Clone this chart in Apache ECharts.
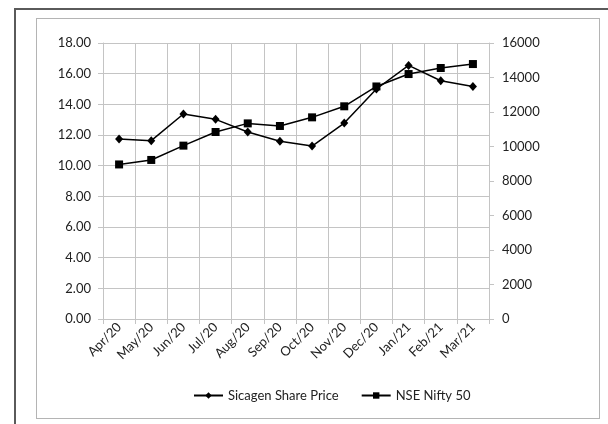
<!DOCTYPE html>
<html lang="en">
<head>
    <meta charset="UTF-8">
    <title>Sicagen vs Nifty</title>
    <script src="https://cdn.jsdelivr.net/npm/echarts@6/dist/echarts.min.js"></script>
    <style>
        html, body {
            margin: 0;
            padding: 0;
            background: #fff;
        }
        #frame {
            position: absolute;
            left: 14px;
            top: 8px;
            width: 600px;
            height: 420px;
            border-left: 2px solid #5a5a5a;
            border-top: 2px solid #5a5a5a;
        }
        #box {
            position: absolute;
            left: 36px;
            top: 18px;
            width: 562px;
            height: 399px;
            border: 1px solid #b4b4b4;
        }
        #main {
            position: absolute;
            left: 0;
            top: 0;
            width: 608px;
            height: 424px;
        }
    </style>
</head>
<body>
<div id="frame"></div>
<div id="box"></div>
<div id="main"></div>

<script type="text/javascript">
    // months on the x axis
    var months = ['Apr/20', 'May/20', 'Jun/20', 'Jul/20', 'Aug/20', 'Sep/20',
        'Oct/20', 'Nov/20', 'Dec/20', 'Jan/21', 'Feb/21', 'Mar/21'];
    // left axis
    var sicagenPrice = [11.74, 11.63, 13.37, 13.02, 12.20, 11.59, 11.28, 12.78, 15.00, 16.54, 15.54, 15.17];
    // right axis
    var niftyValue = [8960, 9220, 10050, 10840, 11340, 11190, 11690, 12330, 13480, 14200, 14550, 14780];

    var font = 'Lato';
    var gridColor = '#c4c4c4';

    var myChart = echarts.init(document.getElementById('main'));

    var option = {
        backgroundColor: 'transparent',
        animation: false,
        textStyle: {fontFamily: font},
        grid: {
            left: 103,
            right: 119,
            top: 43,
            bottom: 105,
            containLabel: false
        },
        legend: {
            bottom: 17,
            left: 188,
            itemWidth: 29,
            itemHeight: 8,
            itemGap: 22,
            textStyle: {fontFamily: font, fontSize: 13, color: '#222'},
            data: ['Sicagen Share Price', 'NSE Nifty 50']
        },
        xAxis: {
            type: 'category',
            data: months,
            boundaryGap: true,
            axisLine: {show: true, lineStyle: {color: gridColor}},
            axisTick: {show: true, length: 5, lineStyle: {color: gridColor}},
            axisLabel: {
                rotate: 45,
                interval: 0,
                margin: 6,
                fontFamily: font,
                fontSize: 13,
                color: '#222'
            },
            splitLine: {show: true, lineStyle: {color: gridColor}}
        },
        yAxis: [
            {
                type: 'value',
                min: 0,
                max: 18,
                interval: 2,
                axisLine: {show: true, lineStyle: {color: gridColor}},
                axisTick: {show: true, length: 5, lineStyle: {color: gridColor}},
                axisLabel: {
                    margin: 12,
                    fontFamily: font,
                    fontSize: 13,
                    color: '#222',
                    formatter: function (v) {
                        return v.toFixed(2);
                    }
                },
                splitLine: {show: true, lineStyle: {color: gridColor}}
            },
            {
                type: 'value',
                min: 0,
                max: 16000,
                interval: 2000,
                position: 'right',
                axisLine: {show: true, lineStyle: {color: gridColor}},
                axisTick: {show: true, length: 5, lineStyle: {color: gridColor}},
                axisLabel: {
                    margin: 13,
                    fontFamily: font,
                    fontSize: 13,
                    color: '#222',
                    formatter: function (v) {
                        return String(v);
                    }
                },
                splitLine: {show: false}
            }
        ],
        series: [
            {
                name: 'Sicagen Share Price',
                type: 'line',
                yAxisIndex: 0,
                data: sicagenPrice,
                symbol: 'diamond',
                symbolSize: [8, 9],
                showAllSymbol: true,
                lineStyle: {color: '#000', width: 1.5},
                itemStyle: {color: '#000'}
            },
            {
                name: 'NSE Nifty 50',
                type: 'line',
                yAxisIndex: 1,
                data: niftyValue,
                symbol: 'rect',
                symbolSize: 8,
                showAllSymbol: true,
                lineStyle: {color: '#000', width: 1.5},
                itemStyle: {color: '#000'}
            }
        ]
    };

    myChart.setOption(option);
</script>

</body>
</html>
